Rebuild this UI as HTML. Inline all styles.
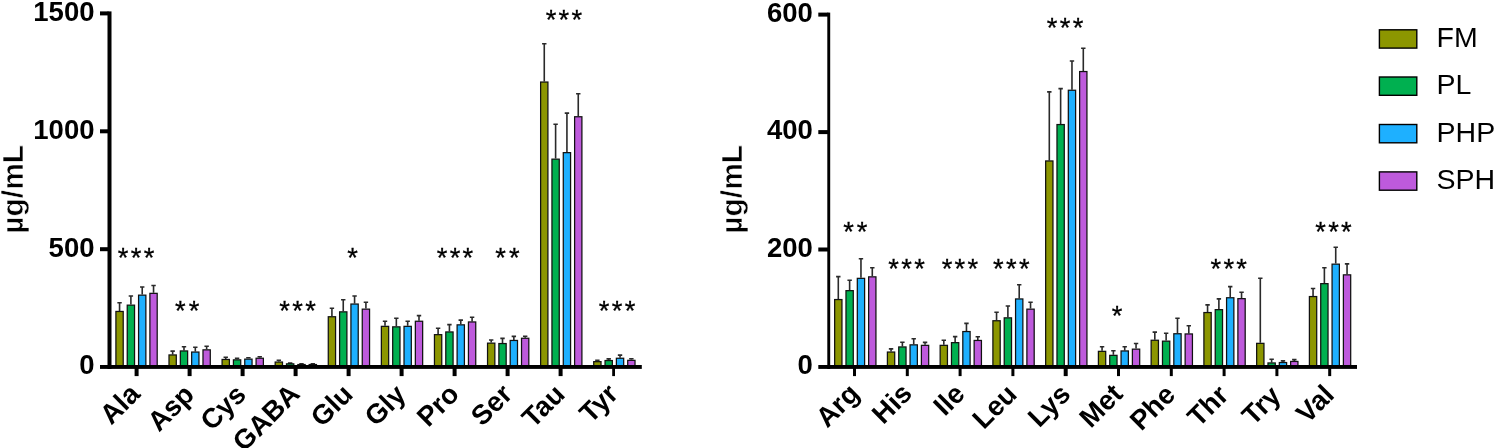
<!DOCTYPE html>
<html><head><meta charset="utf-8"><title>Amino acids</title>
<style>
html,body{margin:0;padding:0;background:#fff}
svg{display:block}
text{font-family:"Liberation Sans",Arial,sans-serif;fill:#000}
.yt{font-size:27.5px;font-weight:bold;text-anchor:end}
.xl{font-size:27.5px;font-weight:bold;text-anchor:end}
.yl{font-size:30px;font-weight:bold;text-anchor:middle;stroke:#fff;stroke-width:0.6px}
.st{font-size:27.3px;text-anchor:middle;stroke:#000;stroke-width:0.3px}
.lg{font-size:28.5px}
.b{stroke:#111;stroke-width:1.25}
.e{stroke:#2a2a2a;stroke-width:1.6;fill:none}
</style></head><body>
<svg width="1496" height="448" viewBox="0 0 1496 448">
<rect width="1496" height="448" fill="#fff"/>
<path d="M119.56 310.9V302.4M117.36 302.7H121.76" class="e"/>
<rect x="115.91" y="311.45" width="7.3" height="55.1" fill="#8c9600" class="b"/>
<path d="M130.89 304.6V295.7M128.69 296H133.09" class="e"/>
<rect x="127.24" y="305.15" width="7.3" height="61.4" fill="#00b050" class="b"/>
<path d="M142.22 294.6V286.7M140.02 287H144.41" class="e"/>
<rect x="138.57" y="295.15" width="7.3" height="71.4" fill="#1eb0ff" class="b"/>
<path d="M153.55 292.8V285.2M151.35 285.5H155.75" class="e"/>
<rect x="149.9" y="293.35" width="7.3" height="73.2" fill="#be5adc" class="b"/>
<path d="M172.65 354.4V350.8M170.45 351.1H174.84" class="e"/>
<rect x="169" y="354.95" width="7.3" height="11.6" fill="#8c9600" class="b"/>
<path d="M183.98 350.4V346.4M181.78 346.7H186.18" class="e"/>
<rect x="180.33" y="350.95" width="7.3" height="15.6" fill="#00b050" class="b"/>
<path d="M195.31 351.5V347M193.11 347.3H197.5" class="e"/>
<rect x="191.66" y="352.05" width="7.3" height="14.5" fill="#1eb0ff" class="b"/>
<path d="M206.64 349.3V345.9M204.44 346.2H208.84" class="e"/>
<rect x="202.99" y="349.85" width="7.3" height="16.7" fill="#be5adc" class="b"/>
<path d="M225.74 358.9V357M223.54 357.3H227.94" class="e"/>
<rect x="222.09" y="359.45" width="7.3" height="7.1" fill="#8c9600" class="b"/>
<path d="M237.07 359.3V358M234.87 358.3H239.27" class="e"/>
<rect x="233.42" y="359.85" width="7.3" height="6.7" fill="#00b050" class="b"/>
<path d="M248.4 358.6V357.5M246.2 357.8H250.59" class="e"/>
<rect x="244.75" y="359.15" width="7.3" height="7.4" fill="#1eb0ff" class="b"/>
<path d="M259.73 357.7V356.4M257.53 356.7H261.93" class="e"/>
<rect x="256.08" y="358.25" width="7.3" height="8.3" fill="#be5adc" class="b"/>
<path d="M278.83 361.5V360M276.63 360.3H281.03" class="e"/>
<rect x="275.18" y="362.05" width="7.3" height="4.5" fill="#8c9600" class="b"/>
<path d="M290.16 363.3V362.8M287.96 363.1H292.36" class="e"/>
<rect x="286.51" y="363.85" width="7.3" height="2.7" fill="#00b050" class="b"/>
<path d="M301.49 364V363.6M299.29 363.9H303.69" class="e"/>
<rect x="297.84" y="364.55" width="7.3" height="2" fill="#1eb0ff" class="b"/>
<path d="M312.82 364V363.6M310.62 363.9H315.02" class="e"/>
<rect x="309.17" y="364.55" width="7.3" height="2" fill="#be5adc" class="b"/>
<path d="M331.92 316.2V308M329.72 308.3H334.12" class="e"/>
<rect x="328.27" y="316.75" width="7.3" height="49.8" fill="#8c9600" class="b"/>
<path d="M343.25 311.3V299.5M341.05 299.8H345.44" class="e"/>
<rect x="339.6" y="311.85" width="7.3" height="54.7" fill="#00b050" class="b"/>
<path d="M354.58 303.5V295.7M352.38 296H356.78" class="e"/>
<rect x="350.93" y="304.05" width="7.3" height="62.5" fill="#1eb0ff" class="b"/>
<path d="M365.91 308.6V301.9M363.71 302.2H368.11" class="e"/>
<rect x="362.26" y="309.15" width="7.3" height="57.4" fill="#be5adc" class="b"/>
<path d="M385.01 325.8V320.9M382.81 321.2H387.21" class="e"/>
<rect x="381.36" y="326.35" width="7.3" height="40.2" fill="#8c9600" class="b"/>
<path d="M396.34 326.3V318M394.14 318.3H398.54" class="e"/>
<rect x="392.69" y="326.85" width="7.3" height="39.7" fill="#00b050" class="b"/>
<path d="M407.67 325.8V320.9M405.47 321.2H409.87" class="e"/>
<rect x="404.02" y="326.35" width="7.3" height="40.2" fill="#1eb0ff" class="b"/>
<path d="M419 320.7V315.3M416.8 315.6H421.2" class="e"/>
<rect x="415.35" y="321.25" width="7.3" height="45.3" fill="#be5adc" class="b"/>
<path d="M438.1 334.1V328M435.9 328.3H440.3" class="e"/>
<rect x="434.45" y="334.65" width="7.3" height="31.9" fill="#8c9600" class="b"/>
<path d="M449.43 331.4V324.3M447.23 324.6H451.62" class="e"/>
<rect x="445.78" y="331.95" width="7.3" height="34.6" fill="#00b050" class="b"/>
<path d="M460.76 324.3V319.8M458.56 320.1H462.96" class="e"/>
<rect x="457.11" y="324.85" width="7.3" height="41.7" fill="#1eb0ff" class="b"/>
<path d="M472.09 321.4V316.9M469.89 317.2H474.29" class="e"/>
<rect x="468.44" y="321.95" width="7.3" height="44.6" fill="#be5adc" class="b"/>
<path d="M491.19 342.6V339.7M488.99 340H493.38" class="e"/>
<rect x="487.54" y="343.15" width="7.3" height="23.4" fill="#8c9600" class="b"/>
<path d="M502.51 343V338.1M500.31 338.4H504.71" class="e"/>
<rect x="498.87" y="343.55" width="7.3" height="23" fill="#00b050" class="b"/>
<path d="M513.85 339.9V336.1M511.65 336.4H516.05" class="e"/>
<rect x="510.2" y="340.45" width="7.3" height="26.1" fill="#1eb0ff" class="b"/>
<path d="M525.18 337.7V335.9M522.98 336.2H527.38" class="e"/>
<rect x="521.52" y="338.25" width="7.3" height="28.3" fill="#be5adc" class="b"/>
<path d="M544.27 81.5V43.5M542.07 43.8H546.48" class="e"/>
<rect x="540.62" y="82.05" width="7.3" height="284.5" fill="#8c9600" class="b"/>
<path d="M555.61 158.6V124M553.4 124.3H557.81" class="e"/>
<rect x="551.95" y="159.15" width="7.3" height="207.4" fill="#00b050" class="b"/>
<path d="M566.93 152.1V112.8M564.73 113.1H569.13" class="e"/>
<rect x="563.28" y="152.65" width="7.3" height="213.9" fill="#1eb0ff" class="b"/>
<path d="M578.26 116.2V93.4M576.06 93.7H580.47" class="e"/>
<rect x="574.61" y="116.75" width="7.3" height="249.8" fill="#be5adc" class="b"/>
<path d="M597.37 361.1V360M595.17 360.3H599.57" class="e"/>
<rect x="593.72" y="361.65" width="7.3" height="4.9" fill="#8c9600" class="b"/>
<path d="M608.7 360V358.6M606.5 358.9H610.9" class="e"/>
<rect x="605.05" y="360.55" width="7.3" height="6" fill="#00b050" class="b"/>
<path d="M620.03 357.7V354.8M617.83 355.1H622.23" class="e"/>
<rect x="616.38" y="358.25" width="7.3" height="8.3" fill="#1eb0ff" class="b"/>
<path d="M631.36 359.8V358.4M629.16 358.7H633.56" class="e"/>
<rect x="627.71" y="360.35" width="7.3" height="6.2" fill="#be5adc" class="b"/>
<rect x="107.5" y="11.4" width="4" height="357.6"/>
<rect x="100" y="365" width="541.8" height="3.9"/>
<rect x="100" y="11.4" width="8.5" height="4"/>
<text x="94.5" y="20.8" class="yt">1500</text>
<rect x="100" y="129.3" width="8.5" height="4"/>
<text x="94.5" y="138.7" class="yt">1000</text>
<rect x="100" y="247.2" width="8.5" height="4"/>
<text x="94.5" y="256.6" class="yt">500</text>
<text x="94.5" y="374.4" class="yt">0</text>
<rect x="134.6" y="367" width="4" height="9.1"/>
<text transform="translate(141.5 395.5) rotate(-45)" class="xl">Ala</text>
<rect x="187.6" y="367" width="4" height="9.1"/>
<text transform="translate(195.7 396.1) rotate(-45)" class="xl">Asp</text>
<rect x="240.6" y="367" width="4" height="9.1"/>
<text transform="translate(247.5 396.1) rotate(-45)" class="xl">Cys</text>
<rect x="293.6" y="367" width="4" height="9.1"/>
<text transform="translate(301.3 395.5) rotate(-45)" class="xl">GABA</text>
<rect x="346.6" y="367" width="4" height="9.1"/>
<text transform="translate(354.3 395.8) rotate(-45)" class="xl">Glu</text>
<rect x="399.6" y="367" width="4" height="9.1"/>
<text transform="translate(407.3 396.2) rotate(-45)" class="xl">Gly</text>
<rect x="452.6" y="367" width="4" height="9.1"/>
<text transform="translate(460.7 395.5) rotate(-45)" class="xl">Pro</text>
<rect x="505.6" y="367" width="4" height="9.1"/>
<text transform="translate(513.7 395.8) rotate(-45)" class="xl">Ser</text>
<rect x="558.6" y="367" width="4" height="9.1"/>
<text transform="translate(566.3 395.8) rotate(-45)" class="xl">Tau</text>
<rect x="612.2" y="367" width="2.8" height="9.1"/>
<text transform="translate(619.7 395.5) rotate(-45)" class="xl">Tyr</text>
<path d="M838.3 299V276.3M836.1 276.6H840.5" class="e"/>
<rect x="834.65" y="299.55" width="7.3" height="67" fill="#8c9600" class="b"/>
<path d="M849.63 290.1V280M847.43 280.3H851.84" class="e"/>
<rect x="845.98" y="290.65" width="7.3" height="75.9" fill="#00b050" class="b"/>
<path d="M860.96 277.8V258.5M858.76 258.8H863.16" class="e"/>
<rect x="857.31" y="278.35" width="7.3" height="88.2" fill="#1eb0ff" class="b"/>
<path d="M872.29 276.3V267.4M870.09 267.7H874.5" class="e"/>
<rect x="868.64" y="276.85" width="7.3" height="89.7" fill="#be5adc" class="b"/>
<path d="M891.05 351.5V348.6M888.85 348.9H893.25" class="e"/>
<rect x="887.4" y="352.05" width="7.3" height="14.5" fill="#8c9600" class="b"/>
<path d="M902.38 346.4V341.9M900.18 342.2H904.59" class="e"/>
<rect x="898.73" y="346.95" width="7.3" height="19.6" fill="#00b050" class="b"/>
<path d="M913.71 344.3V338.5M911.51 338.8H915.91" class="e"/>
<rect x="910.06" y="344.85" width="7.3" height="21.7" fill="#1eb0ff" class="b"/>
<path d="M925.04 344.8V342.1M922.84 342.4H927.25" class="e"/>
<rect x="921.39" y="345.35" width="7.3" height="21.2" fill="#be5adc" class="b"/>
<path d="M943.8 344.8V339.9M941.6 340.2H946" class="e"/>
<rect x="940.15" y="345.35" width="7.3" height="21.2" fill="#8c9600" class="b"/>
<path d="M955.13 342.1V336.3M952.93 336.6H957.34" class="e"/>
<rect x="951.48" y="342.65" width="7.3" height="23.9" fill="#00b050" class="b"/>
<path d="M966.46 331V323.1M964.26 323.4H968.66" class="e"/>
<rect x="962.81" y="331.55" width="7.3" height="35" fill="#1eb0ff" class="b"/>
<path d="M977.79 339.9V336.5M975.59 336.8H980" class="e"/>
<rect x="974.14" y="340.45" width="7.3" height="26.1" fill="#be5adc" class="b"/>
<path d="M996.55 320.2V312M994.35 312.3H998.75" class="e"/>
<rect x="992.9" y="320.75" width="7.3" height="45.8" fill="#8c9600" class="b"/>
<path d="M1007.88 317.3V305.7M1005.68 306H1010.09" class="e"/>
<rect x="1004.23" y="317.85" width="7.3" height="48.7" fill="#00b050" class="b"/>
<path d="M1019.21 298.4V284.5M1017.01 284.8H1021.41" class="e"/>
<rect x="1015.56" y="298.95" width="7.3" height="67.6" fill="#1eb0ff" class="b"/>
<path d="M1030.54 308.6V301.9M1028.34 302.2H1032.74" class="e"/>
<rect x="1026.89" y="309.15" width="7.3" height="57.4" fill="#be5adc" class="b"/>
<path d="M1049.31 160.4V91.6M1047.11 91.9H1051.51" class="e"/>
<rect x="1045.65" y="160.95" width="7.3" height="205.6" fill="#8c9600" class="b"/>
<path d="M1060.63 124V88.3M1058.43 88.6H1062.84" class="e"/>
<rect x="1056.98" y="124.55" width="7.3" height="242" fill="#00b050" class="b"/>
<path d="M1071.97 89.7V60.7M1069.77 61H1074.17" class="e"/>
<rect x="1068.32" y="90.25" width="7.3" height="276.3" fill="#1eb0ff" class="b"/>
<path d="M1083.3 71V48M1081.1 48.3H1085.5" class="e"/>
<rect x="1079.64" y="71.55" width="7.3" height="295" fill="#be5adc" class="b"/>
<path d="M1102.06 350.8V346.4M1099.86 346.7H1104.26" class="e"/>
<rect x="1098.4" y="351.35" width="7.3" height="15.2" fill="#8c9600" class="b"/>
<path d="M1113.38 354.8V350.4M1111.18 350.7H1115.59" class="e"/>
<rect x="1109.73" y="355.35" width="7.3" height="11.2" fill="#00b050" class="b"/>
<path d="M1124.72 350.4V346.4M1122.52 346.7H1126.92" class="e"/>
<rect x="1121.07" y="350.95" width="7.3" height="15.6" fill="#1eb0ff" class="b"/>
<path d="M1136.05 348.6V343.2M1133.85 343.5H1138.25" class="e"/>
<rect x="1132.39" y="349.15" width="7.3" height="17.4" fill="#be5adc" class="b"/>
<path d="M1154.81 339.7V331.8M1152.61 332.1H1157.01" class="e"/>
<rect x="1151.15" y="340.25" width="7.3" height="26.3" fill="#8c9600" class="b"/>
<path d="M1166.13 340.6V333M1163.93 333.3H1168.34" class="e"/>
<rect x="1162.48" y="341.15" width="7.3" height="25.4" fill="#00b050" class="b"/>
<path d="M1177.47 333.2V318M1175.27 318.3H1179.67" class="e"/>
<rect x="1173.82" y="333.75" width="7.3" height="32.8" fill="#1eb0ff" class="b"/>
<path d="M1188.8 333.4V325.4M1186.6 325.7H1191" class="e"/>
<rect x="1185.14" y="333.95" width="7.3" height="32.6" fill="#be5adc" class="b"/>
<path d="M1207.56 312V304.6M1205.36 304.9H1209.76" class="e"/>
<rect x="1203.9" y="312.55" width="7.3" height="54" fill="#8c9600" class="b"/>
<path d="M1218.88 309.1V298.6M1216.68 298.9H1221.09" class="e"/>
<rect x="1215.23" y="309.65" width="7.3" height="56.9" fill="#00b050" class="b"/>
<path d="M1230.22 297.2V286.3M1228.02 286.6H1232.42" class="e"/>
<rect x="1226.57" y="297.75" width="7.3" height="68.8" fill="#1eb0ff" class="b"/>
<path d="M1241.55 298.1V291.9M1239.35 292.2H1243.75" class="e"/>
<rect x="1237.89" y="298.65" width="7.3" height="67.9" fill="#be5adc" class="b"/>
<path d="M1260.31 342.8V278M1258.11 278.3H1262.51" class="e"/>
<rect x="1256.65" y="343.35" width="7.3" height="23.2" fill="#8c9600" class="b"/>
<path d="M1271.63 362.4V358.9M1269.43 359.2H1273.84" class="e"/>
<rect x="1267.98" y="362.95" width="7.3" height="3.6" fill="#00b050" class="b"/>
<path d="M1282.97 362V360.6M1280.77 360.9H1285.17" class="e"/>
<rect x="1279.32" y="362.55" width="7.3" height="4" fill="#1eb0ff" class="b"/>
<path d="M1294.3 360.9V359.3M1292.1 359.6H1296.5" class="e"/>
<rect x="1290.64" y="361.45" width="7.3" height="5.1" fill="#be5adc" class="b"/>
<path d="M1313.06 296V288.2M1310.86 288.5H1315.26" class="e"/>
<rect x="1309.4" y="296.55" width="7.3" height="70" fill="#8c9600" class="b"/>
<path d="M1324.38 283.1V267.4M1322.18 267.7H1326.59" class="e"/>
<rect x="1320.73" y="283.65" width="7.3" height="82.9" fill="#00b050" class="b"/>
<path d="M1335.72 263.6V246.9M1333.52 247.2H1337.92" class="e"/>
<rect x="1332.07" y="264.15" width="7.3" height="102.4" fill="#1eb0ff" class="b"/>
<path d="M1347.05 274.3V263.6M1344.85 263.9H1349.25" class="e"/>
<rect x="1343.39" y="274.85" width="7.3" height="91.7" fill="#be5adc" class="b"/>
<rect x="827.3" y="12.6" width="2.9" height="356.4"/>
<rect x="818.3" y="365" width="538.7" height="3.9"/>
<rect x="818.3" y="12.6" width="10" height="4"/>
<text x="812.8" y="21.6" class="yt">600</text>
<rect x="818.3" y="130.1" width="10" height="4"/>
<text x="812.8" y="139.1" class="yt">400</text>
<rect x="818.3" y="247.5" width="10" height="4"/>
<text x="812.8" y="256.5" class="yt">200</text>
<text x="812.8" y="374" class="yt">0</text>
<rect x="853" y="367" width="3" height="9.1"/>
<text transform="translate(860.8 395.2) rotate(-45)" class="xl">Arg</text>
<rect x="905.8" y="367" width="3" height="9.1"/>
<text transform="translate(913.6 394.9) rotate(-45)" class="xl">His</text>
<rect x="958.6" y="367" width="3" height="9.1"/>
<text transform="translate(966.4 395.5) rotate(-45)" class="xl">Ile</text>
<rect x="1011.4" y="367" width="3" height="9.1"/>
<text transform="translate(1018.4 395.8) rotate(-45)" class="xl">Leu</text>
<rect x="1063.7" y="367" width="4" height="9.1"/>
<text transform="translate(1072 395.8) rotate(-45)" class="xl">Lys</text>
<rect x="1117" y="367" width="3" height="9.1"/>
<text transform="translate(1124.3 395.5) rotate(-45)" class="xl">Met</text>
<rect x="1169.8" y="367" width="3" height="9.1"/>
<text transform="translate(1176.8 396.2) rotate(-45)" class="xl">Phe</text>
<rect x="1222.6" y="367" width="3" height="9.1"/>
<text transform="translate(1230 396.7) rotate(-45)" class="xl">Thr</text>
<rect x="1275.4" y="367" width="3" height="9.1"/>
<text transform="translate(1282.4 397.4) rotate(-45)" class="xl">Try</text>
<rect x="1328.2" y="367" width="3" height="9.1"/>
<text transform="translate(1335.6 396.4) rotate(-45)" class="xl">Val</text>
<text transform="translate(22.9 189.3) rotate(-90)" class="yl">µg/mL</text>
<text transform="translate(742.3 189.3) rotate(-90)" class="yl">µg/mL</text>
<text transform="translate(137.25 266.8)" class="st" style="letter-spacing:2.3px">***</text>
<text transform="translate(188.65 319.6)" class="st" style="letter-spacing:3.0px">**</text>
<text transform="translate(298.75 319.6)" class="st" style="letter-spacing:2.3px">***</text>
<text transform="translate(352.6 266.8)" class="st" style="letter-spacing:0px">*</text>
<text transform="translate(456.1 266.8)" class="st" style="letter-spacing:2.3px">***</text>
<text transform="translate(508.95 266.8)" class="st" style="letter-spacing:3.0px">**</text>
<text transform="translate(565.05 28.9)" class="st" style="letter-spacing:2.3px">***</text>
<text transform="translate(618.2 319.6)" class="st" style="letter-spacing:2.3px">***</text>
<text transform="translate(856.85 240.8)" class="st" style="letter-spacing:3.0px">**</text>
<text transform="translate(907.75 277.8)" class="st" style="letter-spacing:2.3px">***</text>
<text transform="translate(961.05 277.8)" class="st" style="letter-spacing:2.3px">***</text>
<text transform="translate(1012.45 277.8)" class="st" style="letter-spacing:2.3px">***</text>
<text transform="translate(1066.25 36.6)" class="st" style="letter-spacing:2.3px">***</text>
<text transform="translate(1117.05 325.1)" class="st" style="letter-spacing:0px">*</text>
<text transform="translate(1229.85 278)" class="st" style="letter-spacing:2.3px">***</text>
<text transform="translate(1334.65 240.8)" class="st" style="letter-spacing:2.3px">***</text>
<rect x="1379.4" y="29.8" width="37.4" height="18.3" fill="#8c9600" stroke="#000" stroke-width="1.4"/>
<text x="1436.6" y="46.9" class="lg">FM</text>
<rect x="1379.4" y="77" width="37.4" height="18.3" fill="#00b050" stroke="#000" stroke-width="1.4"/>
<text x="1436.6" y="94.1" class="lg">PL</text>
<rect x="1379.4" y="124.5" width="37.4" height="18.3" fill="#1eb0ff" stroke="#000" stroke-width="1.4"/>
<text x="1436.6" y="141.6" class="lg">PHP</text>
<rect x="1379.4" y="171.9" width="37.4" height="18.3" fill="#be5adc" stroke="#000" stroke-width="1.4"/>
<text x="1436.6" y="189" class="lg">SPH</text>
</svg></body></html>
